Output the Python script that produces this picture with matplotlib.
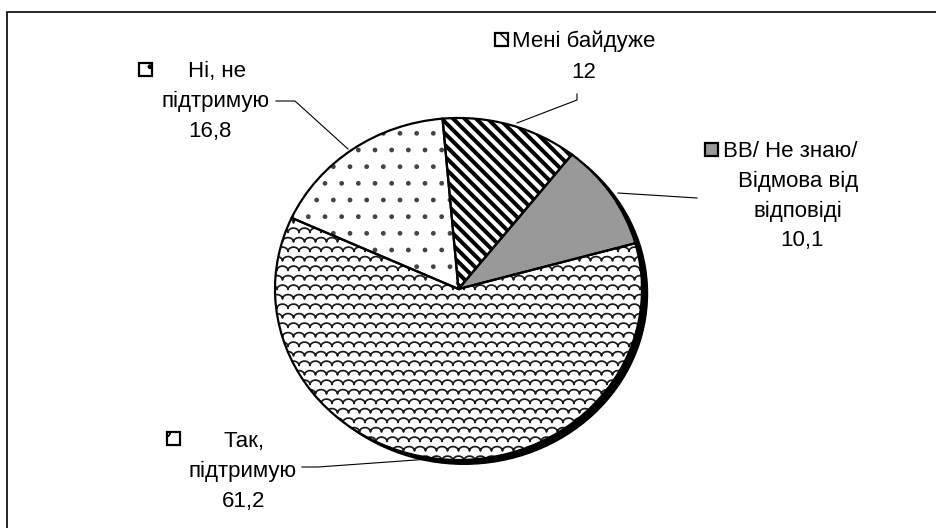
import matplotlib
matplotlib.use("Agg")
import matplotlib.pyplot as plt
import numpy as np
from matplotlib.patches import Ellipse, Rectangle, Wedge

# data (clockwise from the top)
labels = ["Мені байдуже", "ВВ/ Не знаю/ Відмова від відповіді", "Так, підтримую", "Ні, не підтримую"]
values = [12, 10.1, 61.2, 16.8]
value_text = ["12", "10,1", "61,2", "16,8"]
label_lines = [
    ["Мені байдуже"],
    ["ВВ/ Не знаю/", "Відмова від", "відповіді"],
    ["Так,", "підтримую"],
    ["Ні, не", "підтримую"],
]

W, H = 936, 528
plt.rcParams["font.family"] = ["Liberation Sans", "DejaVu Sans"]
FS = 16

fig = plt.figure(figsize=(W / 100, H / 100), dpi=100)
fig.patch.set_facecolor("white")


def fx(x):
    return x / W


def fy(y):
    return 1 - y / H


# outer frame (runs off the right / bottom edge)
fig.add_artist(Rectangle((fx(7), fy(H + 20)), fx(W + 20 - 7), (H + 20 - 12) / H,
                         transform=fig.transFigure, fill=False, edgecolor="black", lw=1.2))

# pie axes, slightly elliptical
left, right, top, bottom = 275, 642, 118, 460
rx, ry = (right - left) / 2, (bottom - top) / 2
ax = fig.add_axes([fx(left), fy(bottom), fx(right - left), (bottom - top) / H])
ax.set_xlim(-1, 1)
ax.set_ylim(-1, 1)
ax.set_aspect("auto")
ax.axis("off")

styles = [
    dict(facecolor="white", hatch=None, hcolor="black", hlw=1),
    dict(facecolor="#999999", hatch=None, hcolor="black", hlw=1),
    dict(facecolor="white", hatch=None, hcolor="#222222", hlw=1.1),
    dict(facecolor="white", hatch=".", hcolor="#444444", hlw=1.0),
]

# shadow
ax.add_patch(Ellipse((0.03, -0.025), 2, 2, facecolor="black", edgecolor="black",
                     lw=1, zorder=0, clip_on=False))

start = 95.0
total = sum(values)
wedges = []
for v, st in zip(values, styles):
    sweep = 360 * v / total
    t1, t2 = start - sweep, start
    w = Wedge((0, 0), 1, t1, t2, facecolor=st["facecolor"], edgecolor=st["hcolor"],
              hatch=st["hatch"], lw=0, zorder=1, clip_on=False)
    if hasattr(w, "set_hatch_linewidth"):
        w.set_hatch_linewidth(st["hlw"])
    ax.add_patch(w)
    wedges.append(w)
    ax.add_patch(Wedge((0, 0), 1, t1, t2, fill=False, edgecolor="black", lw=1.6,
                       zorder=3, clip_on=False))
    start -= sweep

# diagonal stripes for "Мені байдуже", clipped to its wedge
step = 11.5  # px, horizontal spacing
for c in np.arange(-2 * rx - 2 * ry, 2 * rx + 2 * ry, step):
    xs_px = np.array([-rx - 10, rx + 10])
    ys_px = -(xs_px - c)  # 45 deg, going down to the right
    ln, = ax.plot(xs_px / rx, ys_px / ry, color="black", lw=2.9, zorder=2,
                  solid_capstyle="butt")
    ln.set_clip_path(wedges[0])

# scale (shingle) texture for "Так, підтримую"
period, row_h = 11.0, 9.5
r = period / 2
arc = np.linspace(np.pi, 0, 12)
for i, y0 in enumerate(np.arange(-ry - 10, ry + 10, row_h)):
    off = (i % 2) * r
    xs, ys = [], []
    for k0 in np.arange(-rx - 20 + off, rx + 20, period):
        xs.extend(k0 + r * np.cos(arc))
        ys.extend(y0 + 0.8 * r * np.sin(arc))
    ln, = ax.plot(np.array(xs) / rx, np.array(ys) / ry, color="#1a1a1a", lw=1.25, zorder=2)
    ln.set_clip_path(wedges[2])


def key_box(x, y, st, hatch=None):
    rect = Rectangle((fx(x), fy(y + 13)), 13 / W, 13 / H, transform=fig.transFigure,
                     facecolor=st["facecolor"], edgecolor="black", lw=1.6,
                     hatch=hatch)
    fig.add_artist(rect)


def lines(xs, ys, texts):
    for x, y, t in zip(xs, ys, texts):
        fig.text(fx(x), fy(y), t, ha="center", va="baseline", fontsize=FS, color="black")


# Мені байдуже
key_box(495, 33, styles[0], "\\\\")
fig.text(fx(512), fy(47), label_lines[0][0], ha="left", va="baseline", fontsize=FS)
lines([584], [78], [value_text[0]])

# ВВ
key_box(705, 143, styles[1])
fig.text(fx(723), fy(157), label_lines[1][0], ha="left", va="baseline", fontsize=FS)
lines([798, 798, 802], [187, 217, 246], label_lines[1][1:] + [value_text[1]])

# Так
key_box(167, 432, styles[2], "o")
lines([244, 243, 244], [447, 477, 507], label_lines[2] + [value_text[2]])

# Ні
key_box(139, 63, styles[3], ".")
lines([217, 216, 210], [77, 107, 137], label_lines[3] + [value_text[3]])

# leader lines (figure pixel coords)
leaders = [
    [(577, 94), (577, 100), (517, 123)],
    [(618, 193), (697, 198)],
    [(302, 467), (318, 467), (430, 459)],
    [(276, 101), (295, 101), (348, 149)],
]
for pts in leaders:
    fig.add_artist(plt.Line2D([fx(p[0]) for p in pts], [fy(p[1]) for p in pts],
                              transform=fig.transFigure, color="black", lw=0.8))

fig.savefig("out.png", dpi=100)
